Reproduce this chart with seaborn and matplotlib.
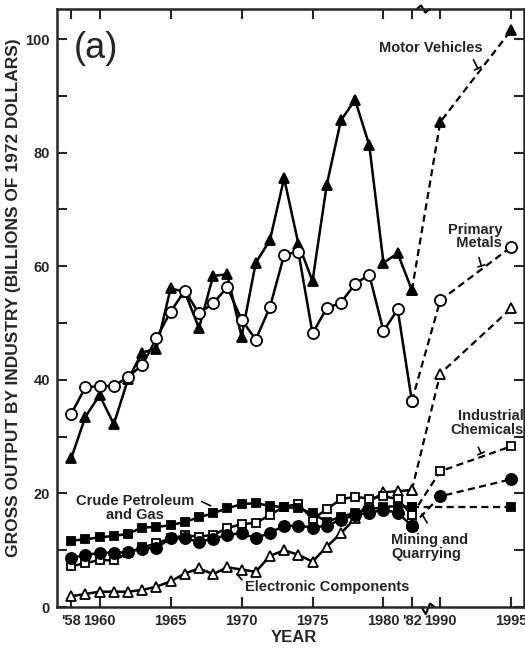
import numpy as np
import pandas as pd
import matplotlib
matplotlib.use('Agg')
import matplotlib.pyplot as plt
import seaborn as sns

# historical years and projection years
years = np.arange(1958, 1983)
proj_years = np.array([1990, 1995])

motor = [26.2, 33.5, 37.3, 32.2, 40.1, 44.8, 45.5, 56.1, 55.5, 49.1, 58.3, 58.6, 47.6,
         60.6, 64.6, 75.5, 64.0, 57.4, 74.3, 85.7, 89.3, 81.3, 60.6, 62.3, 55.8]
metals = [34.0, 38.7, 38.9, 38.9, 40.5, 42.6, 47.3, 52.0, 55.7, 51.7, 53.5, 56.3, 50.6,
          47.1, 52.8, 62.0, 62.6, 48.2, 52.6, 53.6, 56.9, 58.5, 48.6, 52.4, 36.3]
electronics = [1.9, 2.3, 2.7, 2.7, 2.7, 3.0, 3.6, 4.5, 5.9, 6.8, 5.8, 7.0, 6.6,
               6.2, 9.0, 10.0, 9.2, 8.0, 10.6, 13.0, 15.6, 18.5, 20.2, 20.4, 20.6]
chemicals = [7.2, 7.7, 8.3, 8.2, 9.5, 10.5, 11.2, 12.1, 12.6, 12.4, 12.7, 13.9, 14.6,
             14.8, 16.2, 17.7, 18.1, 15.5, 17.2, 19.0, 19.4, 19.1, 19.5, 19.0, 16.2]
crude = [11.7, 11.9, 12.3, 12.5, 12.9, 14.0, 14.1, 14.4, 15.0, 15.8, 16.5, 17.4, 18.1,
         18.3, 17.8, 17.6, 17.4, 16.5, 15.0, 15.9, 16.6, 17.2, 17.6, 17.8, 17.6]
mining = [8.7, 9.1, 9.6, 9.5, 9.7, 10.3, 10.4, 12.1, 12.1, 11.5, 12.0, 12.7, 13.0,
          12.1, 13.1, 14.3, 14.3, 14.0, 14.3, 15.4, 16.2, 16.6, 17.1, 16.6, 14.3]

motor_proj = [85.4, 101.6]
metals_proj = [54.0, 63.4]
electronics_proj = [41.1, 52.6]
chemicals_proj = [23.9, 28.3]
mining_proj = [19.5, 22.5]
crude_proj_years = np.array([1995])
crude_proj = [17.6]

tick_years = [1958, 1960, 1965, 1970, 1975, 1980, 1982, 1990, 1995]
tick_labels = ["'58", "1960", "1965", "1970", "1975", "1980", "'82", "1990", "1995"]


def pos(y):
    # broken axis: 1982 -> 1990 gap squeezed into two years
    y = np.asarray(y)
    return np.where(y > 1982, y - 6, y)


sns.set_style('ticks')
plt.rcParams['font.family'] = ['Liberation Sans', 'DejaVu Sans']

fig = plt.figure(figsize=(5.25, 6.53), dpi=100)
ax = fig.add_axes([0.1086, 0.0704, 0.8895, 0.9158])

series = [
    (motor, motor_proj, proj_years, '^', 'black', 7.5),
    (metals, metals_proj, proj_years, 'o', 'white', 8),
    (electronics, electronics_proj, proj_years, '^', 'white', 6.5),
    (chemicals, chemicals_proj, proj_years, 's', 'white', 6.2),
    (crude, crude_proj, crude_proj_years, 's', 'black', 6.2),
    (mining, mining_proj, proj_years, 'o', 'black', 8),
]

for hist, proj, pyears, mk, face, ms in series:
    common = dict(color='black', marker=mk, markersize=ms, markerfacecolor=face,
                  markeredgecolor='black', markeredgewidth=1.3, errorbar=None, ax=ax)
    sns.lineplot(x=pos(years), y=hist, linewidth=1.8, linestyle='-', **common)
    px = np.concatenate([[1982], pyears])
    py = np.concatenate([[hist[-1]], proj])
    sns.lineplot(x=pos(px), y=py, linewidth=1.6, linestyle=(0, (3.2, 2.0)), **common)

ax.set_xlim(1957.0, 1989.9)
ax.set_ylim(0, 105.3)
ax.set_xticks(pos(tick_years))
ax.set_xticklabels(tick_labels)
ax.set_yticks([0, 20, 40, 60, 80, 100])
ax.set_yticks(np.arange(10, 100, 20), minor=True)
ax.tick_params(which='both', direction='in', length=7, width=1.5,
               top=True, right=True, labelsize=10.5, pad=5)
for lab in ax.get_xticklabels() + ax.get_yticklabels():
    lab.set_fontweight('bold')
for sp in ax.spines.values():
    sp.set_linewidth(1.8)
    sp.set_visible(True)

ax.set_xlabel('YEAR', fontsize=12, fontweight='bold')
ax.xaxis.set_label_coords(0.507, -0.039)
ax.set_ylabel('GROSS OUTPUT BY INDUSTRY (BILLIONS OF 1972 DOLLARS)',
              fontsize=12.5, fontweight='bold')
ax.yaxis.set_label_coords(-0.077, 0.517)

ax.text(0.035, 0.963, '(a)', transform=ax.transAxes, fontsize=26, va='top', ha='left')

# axis break marks
xt = ax.get_xaxis_transform()
pb, pt = 1983.13, 1982.8
ax.plot([pb - 0.45, pb - 0.15, pb + 0.15, pb + 0.45], [0, -0.012, 0.006, 0],
        transform=xt, color='black', lw=1.5, clip_on=False)
ax.plot([pt - 0.45, pt - 0.15, pt + 0.15, pt + 0.45], [1, 1.006, 0.994, 1],
        transform=xt, color='black', lw=1.5, clip_on=False)

tkw = dict(fontsize=10.5, fontweight='bold')
tee = dict(arrowstyle='-[,widthB=0.25,lengthB=0', color='black', lw=1.2)
plain = dict(arrowstyle='-', color='black', lw=1.2)

ax.text(1983.36, 98.4, 'Motor Vehicles', ha='center', va='center', **tkw)
ax.annotate('', xy=(1986.74, 94.4), xytext=(1986.25, 96.8), arrowprops=tee)

ax.text(1986.46, 65.2, 'Primary\n  Metals', ha='center', va='center', linespacing=0.95, **tkw)
ax.annotate('', xy=(1986.95, 59.6), xytext=(1986.67, 62.0), arrowprops=tee)

ax.text(1989.85, 32.4, 'Industrial\nChemicals', ha='right', va='center', linespacing=0.95, **tkw)
ax.annotate('', xy=(1986.95, 26.6), xytext=(1986.6, 28.6), arrowprops=tee)

ax.text(1962.5, 17.4, 'Crude Petroleum\nand Gas', ha='center', va='center', linespacing=0.95, **tkw)
ax.annotate('', xy=(1968.0, 17.6), xytext=(1967.02, 18.8), arrowprops=plain)

ax.text(1980.54, 10.6, 'Mining and\nQuarrying', ha='left', va='center', linespacing=0.95, **tkw)
ax.annotate('', xy=(1982.6, 16.8), xytext=(1983.18, 14.4), arrowprops=plain)

ax.text(1970.25, 3.6, 'Electronic Components', ha='left', va='center', **tkw)
ax.annotate('', xy=(1969.56, 6.2), xytext=(1970.15, 4.4), arrowprops=plain)

fig.savefig('out.png', dpi=100)
